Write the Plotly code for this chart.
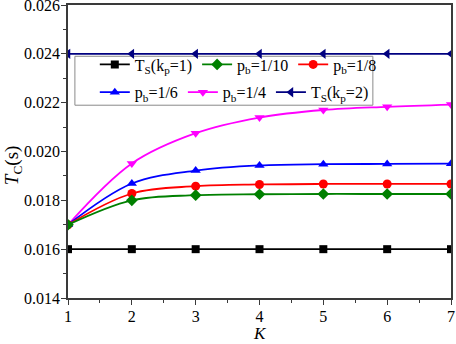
import plotly.graph_objects as go

K = [1, 2, 3, 4, 5, 6, 7]
ts_kp1 = [0.016, 0.016, 0.016, 0.016, 0.016, 0.016, 0.016]
pb_1_10 = [0.0170, 0.0180, 0.01821, 0.01825, 0.01826, 0.01826, 0.01826]
pb_1_8 = [0.0170, 0.01828, 0.01858, 0.01865, 0.01867, 0.01867, 0.01867]
pb_1_6 = [0.0170, 0.01869, 0.01922, 0.01943, 0.01948, 0.01949, 0.01950]
pb_1_4 = [0.0170, 0.01951, 0.02075, 0.02139, 0.02170, 0.02183, 0.02192]
ts_kp2 = [0.024, 0.024, 0.024, 0.024, 0.024, 0.024, 0.024]

FONT = "Liberation Serif"

series = [
    # name, data, color, symbol, size, legend, rank
    ("T<sub>S</sub>(k<sub>p</sub>=2)", ts_kp2, "#000080", "triangle-left", 9, "legend2", 6),
    ("p<sub>b</sub>=1/4", pb_1_4, "#ff00ff", "triangle-down", 9, "legend2", 5),
    ("p<sub>b</sub>=1/6", pb_1_6, "#0000ff", "triangle-up", 9, "legend2", 4),
    ("p<sub>b</sub>=1/8", pb_1_8, "#ff0000", "circle", 9, "legend", 3),
    ("p<sub>b</sub>=1/10", pb_1_10, "#008000", "diamond", 9, "legend", 2),
    ("T<sub>S</sub>(k<sub>p</sub>=1)", ts_kp1, "#000000", "square", 8, "legend", 1),
]

fig = go.Figure()
for name, ys, color, sym, size, leg, rank in series:
    fig.add_trace(go.Scatter(
        x=K, y=ys, name=name, mode="lines+markers",
        line=dict(color=color, width=1.8, shape="spline", smoothing=1),
        marker=dict(symbol=sym, size=size, color=color),
        legend=leg, legendrank=rank,
    ))

axis_common = dict(
    showline=True, linecolor="#3a3a3a", linewidth=1.6, mirror=True,
    ticks="outside", ticklen=5, tickwidth=1.2, tickcolor="#3a3a3a",
    showgrid=False, zeroline=False, automargin=False,
    ticklabeloverflow="allow", ticklabelstandoff=-2,
    tickfont=dict(family=FONT, size=16, color="black"),
    minor=dict(ticks="outside", ticklen=3, tickwidth=1, tickcolor="#3a3a3a"),
)

fig.update_layout(
    width=456, height=344,
    margin=dict(l=68, r=5, t=5, b=46),
    plot_bgcolor="white", paper_bgcolor="white",
    font=dict(family=FONT, size=16, color="black"),
    xaxis=dict(range=[1, 7], dtick=1, tick0=1, **axis_common),
    yaxis=dict(range=[0.014, 0.026], dtick=0.002, tickformat=".3f", **axis_common),
    legend=dict(orientation="h", x=0.07, xanchor="left", y=0.797, yanchor="middle",
                bgcolor="rgba(0,0,0,0)", font=dict(family=FONT, size=16),
                traceorder="normal", itemwidth=30, tracegroupgap=0),
    legend2=dict(orientation="h", x=0.07, xanchor="left", y=0.702, yanchor="middle",
                 bgcolor="rgba(0,0,0,0)", font=dict(family=FONT, size=16),
                 traceorder="normal", itemwidth=30, tracegroupgap=0),
    shapes=[dict(type="rect", xref="paper", yref="paper",
                 x0=0.018, x1=0.796, y0=0.658, y1=0.825,
                 line=dict(color="#8a8a8a", width=1), fillcolor="white", layer="below")],
    annotations=[
        dict(text="<i>T</i><sub>C</sub>(s)", textangle=-90, xref="paper", yref="paper",
             x=-0.145, y=0.455, xanchor="center", yanchor="middle", showarrow=False,
             font=dict(family=FONT, size=19, color="black")),
        dict(text="<i>K</i>", xref="paper", yref="paper",
             x=0.5, y=-0.122, xanchor="center", yanchor="middle", showarrow=False,
             font=dict(family=FONT, size=17, color="black")),
    ],
)
fig.update_xaxes(minor=dict(dtick=0.5))
fig.update_yaxes(minor=dict(dtick=0.001))

fig.write_html("out.html", config={"displayModeBar": False},
               post_script="document.body.style.margin='0';document.body.style.overflow='hidden';")
